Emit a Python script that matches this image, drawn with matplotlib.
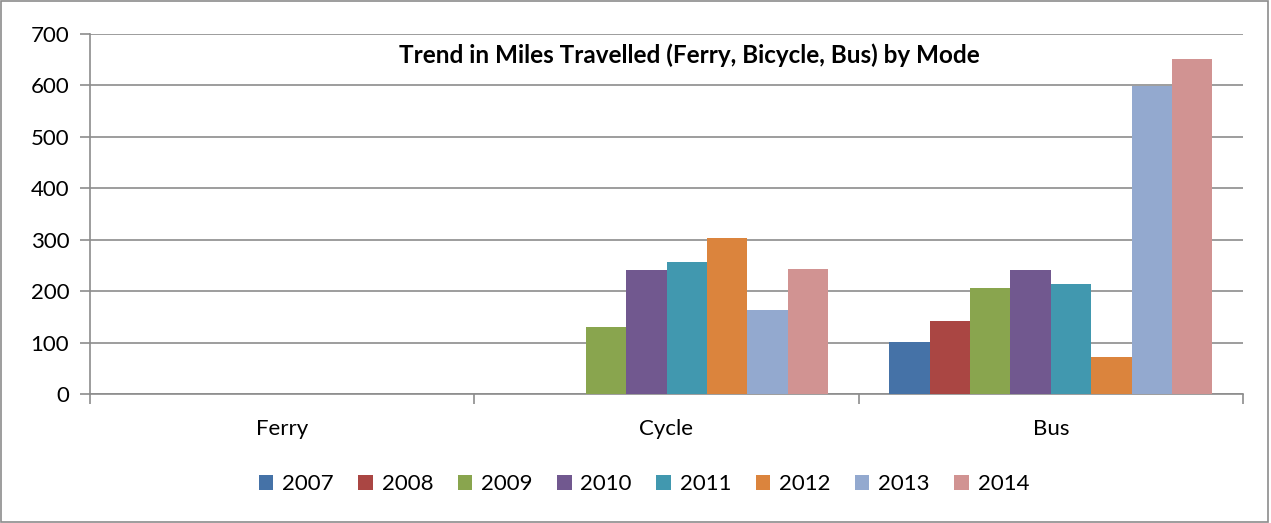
import matplotlib.pyplot as plt
import numpy as np

# Miles travelled by mode and year
modes = ['Ferry', 'Cycle', 'Bus']
years = ['2007', '2008', '2009', '2010', '2011', '2012', '2013', '2014']
miles = {
    '2007': [0, 0, 101],
    '2008': [0, 0, 142],
    '2009': [0, 131, 206],
    '2010': [0, 241, 241],
    '2011': [0, 256, 214],
    '2012': [0, 303, 72],
    '2013': [0, 163, 599],
    '2014': [0, 244, 652],
}
colors = ['#4572A7', '#AA4643', '#89A54E', '#71588F', '#4198AF', '#DB843D', '#93A9CF', '#D19392']

plt.rcParams['font.family'] = ['Lato', 'DejaVu Sans']

fig = plt.figure(figsize=(12.71, 5.23), dpi=100)
ax = fig.add_axes([90 / 1271, 1 - 394 / 523, 1153 / 1271, 360 / 523])

x = np.arange(len(modes))
w = 0.105
for i, yr in enumerate(years):
    ax.bar(x + (i - 3.5) * w, miles[yr], width=w, color=colors[i], linewidth=0, label=yr, zorder=3)

ax.set_xlim(-0.5, 2.5)
ax.set_ylim(0, 700)
ax.set_yticks(range(0, 701, 100))
ax.grid(axis='y', color='#8c8c8c', linewidth=1.2, zorder=0)
ax.set_xticks(x)
ax.set_xticklabels(modes, fontsize=16)
ax.set_xticks([-0.5, 0.5, 1.5, 2.5], minor=True)
ax.tick_params(axis='x', which='major', length=0, pad=18)
ax.tick_params(axis='x', which='minor', length=7, color='#8c8c8c', width=1.2)
ax.tick_params(axis='y', length=7, color='#8c8c8c', width=1.2, labelsize=16, pad=8)
for s in ['top', 'right']:
    ax.spines[s].set_visible(False)
for s in ['left', 'bottom']:
    ax.spines[s].set_color('#8c8c8c')
    ax.spines[s].set_linewidth(1.2)

ax.text(0.52, 0.94, 'Trend in Miles Travelled (Ferry, Bicycle, Bus) by Mode',
        transform=ax.transAxes, ha='center', va='center', fontsize=17.5, fontweight='bold')

fig.legend(loc='center', bbox_to_anchor=(644 / 1271, 1 - 484 / 523), ncol=8, frameon=False,
           fontsize=16, handlelength=0.65, handleheight=0.65, handletextpad=0.4, columnspacing=1.1)

fig.patches.append(plt.Rectangle((0.001, 0.002), 0.997, 0.996, transform=fig.transFigure,
                                 fill=False, edgecolor='#8c8c8c', linewidth=1.2))

plt.savefig('out.png', dpi=100)
